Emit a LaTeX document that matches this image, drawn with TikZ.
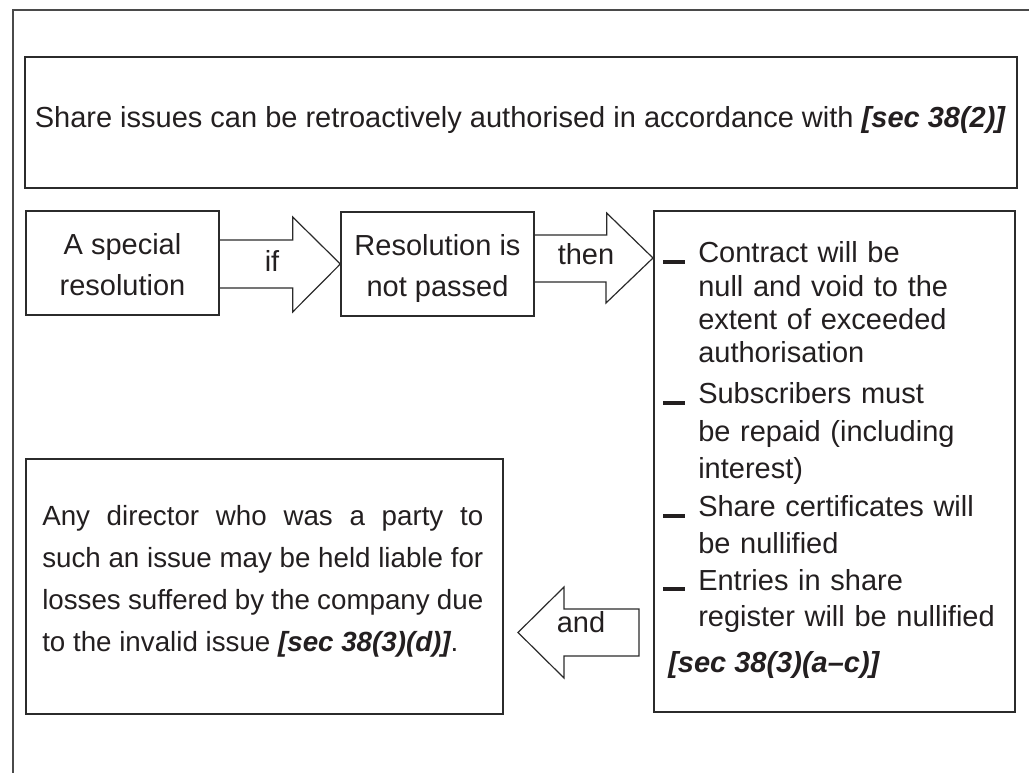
\documentclass[tikz,border=0pt]{standalone}
\usepackage{fontspec}
\setmainfont{Liberation Sans}
\usetikzlibrary{fit,calc}
\definecolor{ink}{HTML}{231F20}
\definecolor{rule}{HTML}{2B2B2B}
\definecolor{framegray}{HTML}{4A4A4A}

\begin{document}
\begin{tikzpicture}[x=0.75pt,y=-0.75pt,
  boxline/.style={draw=rule, line width=1pt, inner sep=0pt},
  arrowline/.style={draw=rule, line width=0.9pt, line join=miter},
  txt/.style={text=ink, inner sep=0pt, font=\fontsize{21.75}{25}\selectfont},
  twoline/.style={txt, align=center, font=\fontsize{21.75}{30.75}\selectfont},
  bullettxt/.style={txt, align=left, text width=240pt, anchor=base west},
  dashmark/.style={draw=ink, line width=2.4pt},
  ref/.style={font=\fontsize{21.75}{25}\selectfont\bfseries\itshape}]

\useasboundingbox (0,0) rectangle (1029,773);

% open page frame (top and left edges only)
\draw[framegray, line width=0.9pt] (13,773) -- (13,10) -- (1029,10);

% boxes
\node[boxline, fit={(25,57) (1017,188)}] (top) {};
\node[boxline, fit={(26,211) (219,315)}] (A) {};
\node[boxline, fit={(341,212) (534,316)}] (B) {};
\node[boxline, fit={(654,211) (1015,712)}] (C) {};
\node[boxline, fit={(26,459) (503,714)}] (D) {};

% headline
\node[txt, anchor=base] (toptext) at (520,128)
  {Share issues can be retroactively authorised in accordance with {\bfseries\itshape [sec 38(2)]}};

% first row (base anchor sits on the last line)
\node[twoline, anchor=base] (Atext) at (122.5,296) {A special\\resolution};
\node[twoline, anchor=base] (Btext) at (437.5,297) {Resolution is\\not passed};

% block arrow "if"
\draw[arrowline] ($(A.east)+(0,-23)$) -- ++(73,0) -- ++(0,-23)
  -- (B.west) -- ($(A.east)+(73,49)$) -- ++(0,-24) -- ($(A.east)+(0,25)$);
\node[txt, anchor=base] (iflabel) at (272,272) {if};

% block arrow "then"
\coordinate (thenTip) at (653,258);
\draw[arrowline] ($(B.east)+(0,-29)$) -- ++(72,0) -- ++(0,-22)
  -- (thenTip) -- ++(-47,45) -- ++(0,-21) -- ($(B.east)+(0,18)$);
\node[txt, anchor=base] (thenlabel) at (586,265) {then};

% consequences listed in the right-hand box
\draw[dashmark] (663,262) -- (685,262);
\node[bullettxt, font=\fontsize{21.75}{25}\selectfont] (c1) at (698,263)
  {Contract will be\\null and void to the\\extent of exceeded\\authorisation};
\draw[dashmark] (663,403) -- (685,403);
\node[bullettxt, font=\fontsize{21.75}{28}\selectfont] (c2) at (698,404)
  {Subscribers must\\be repaid (including\\interest)};
\draw[dashmark] (663,516) -- (685,516);
\node[bullettxt, font=\fontsize{21.75}{27.5}\selectfont] (c3) at (698,517)
  {Share certificates will\\be nullified};
\draw[dashmark] (663,589) -- (685,589);
\node[bullettxt, font=\fontsize{21.75}{27.5}\selectfont] (c4) at (698,590)
  {Entries in share\\register will be nullified};
\node[txt, ref, anchor=base west] (cref) at (668,672) {[sec 38(3)(a–c)]};

% block arrow "and"
\draw[arrowline] (639,609) -- (564,609) -- (564,587) -- (518,632.5)
  -- (564,678) -- (564,656) -- (639,656) -- cycle;
\node[txt, anchor=base] (andlabel) at (581,633) {and};

% liability note
\node[txt, anchor=base west, align=justify, text width=330.75pt,
      font=\fontsize{20.8}{31.3}\selectfont] (Dtext) at (42,526)
  {Any director who was a party to\linebreak
   such an issue may be held liable for\linebreak
   losses suffered by the company due\linebreak
   to the invalid issue {\bfseries\itshape [sec 38(3)(d)]}.};
\end{tikzpicture}
\end{document}
